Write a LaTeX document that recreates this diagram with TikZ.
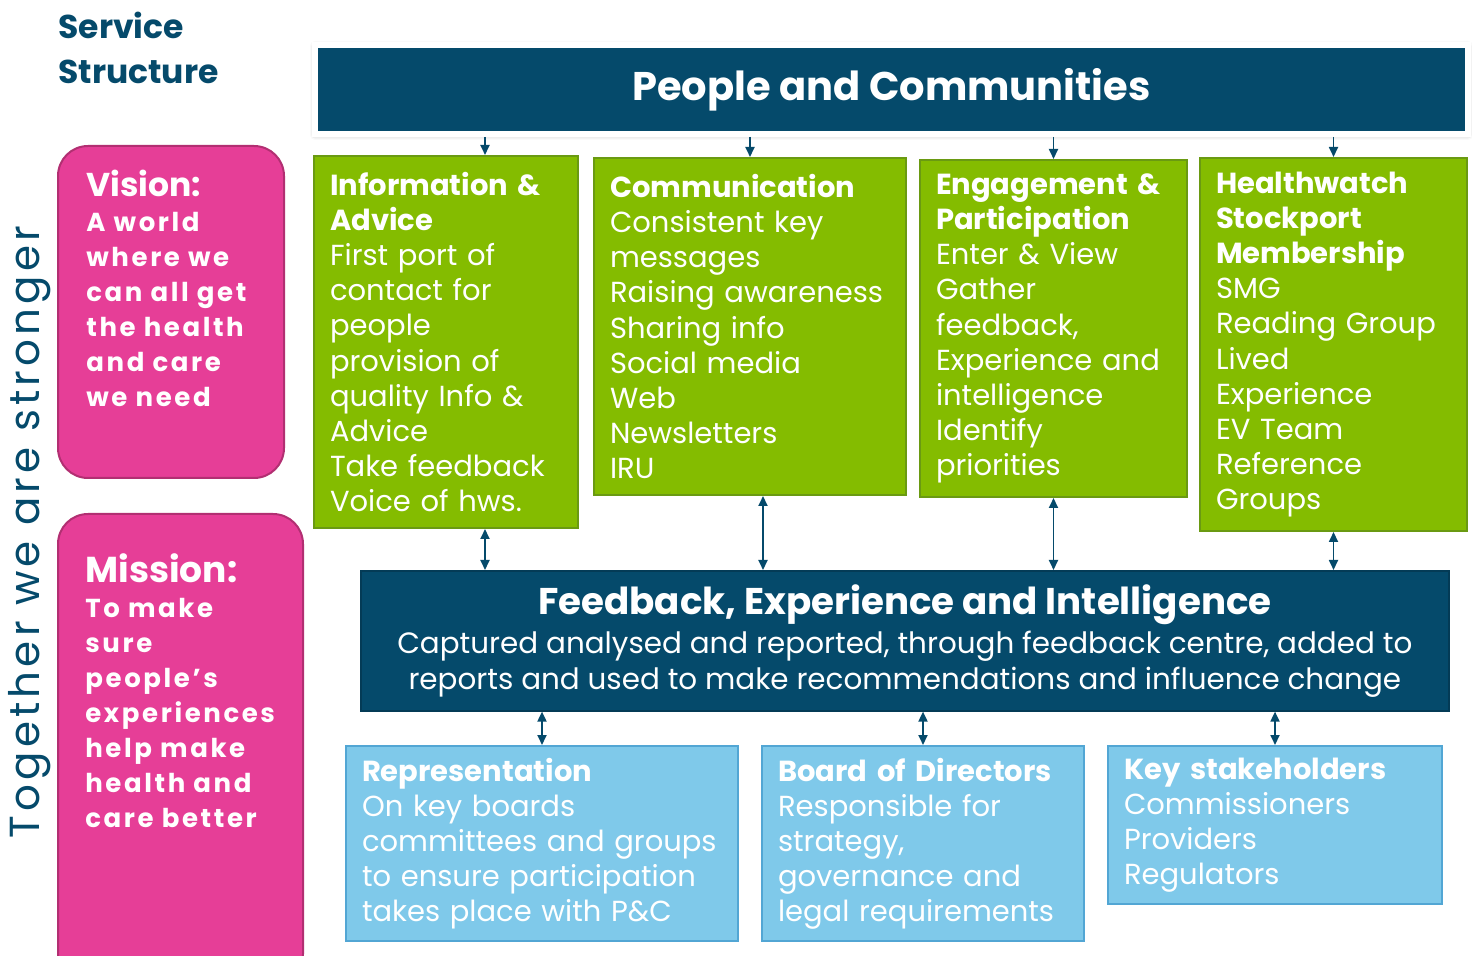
\documentclass[tikz,border=0pt]{standalone}
\usepackage{fontspec}
\setmainfont{Poppins}
\newfontfamily\widefont[LetterSpace=10]{Poppins}
\newfontfamily\sidefont[LetterSpace=10]{Poppins}
\usetikzlibrary{arrows.meta, positioning, shadows.blur}
\definecolor{hwTeal}{HTML}{054A6B}
\definecolor{hwGreen}{HTML}{84BC00}
\definecolor{hwGreenDark}{HTML}{6A9A12}
\definecolor{hwPink}{HTML}{E63E97}
\definecolor{hwPinkDark}{HTML}{B22F72}
\definecolor{hwBlue}{HTML}{7FC9EA}
\definecolor{hwBlueDark}{HTML}{52A6D4}

\begin{document}
\begin{tikzpicture}[
    x=0.5pt, y=-0.5pt,
    % Styles
    banner/.style={rectangle, fill=hwTeal, text=white, anchor=north west, inner sep=0pt, align=center},
    greenbox/.style={rectangle, draw=hwGreenDark, line width=1pt, fill=hwGreen, text=white, anchor=north west, align=left, inner xsep=8pt, inner ysep=0pt, font=\fontsize{14.5}{17.6}\selectfont},
    bluebox/.style={rectangle, draw=hwBlueDark, line width=1pt, fill=hwBlue, text=white, anchor=north west, align=left, inner xsep=8pt, inner ysep=0pt, font=\fontsize{14.5}{17.5}\selectfont},
    pinkbox/.style={rectangle, rounded corners=15pt, draw=hwPinkDark, line width=1pt, fill=hwPink, anchor=north west, inner sep=0pt},
    pinktext/.style={text=white, align=left, anchor=north west, inner sep=0pt, font=\widefont\bfseries\fontsize{13}{17.5}\selectfont},
    arrow/.style={-{Triangle[length=5pt, width=4.5pt]}, line width=0.9pt, draw=hwTeal},
    biarrow/.style={{Triangle[length=5pt, width=4.5pt]}-{Triangle[length=5pt, width=4.5pt]}, line width=0.9pt, draw=hwTeal}
]
    \useasboundingbox (0,0) rectangle (1472,956);

    % Heading and side text
    \node[anchor=north west, inner sep=0pt, align=left, text=hwTeal, font=\bfseries\fontsize{16.5}{22.5}\selectfont] (heading) at (58,12) {Service\\Structure};
    \node[rotate=90, inner sep=0pt, text=hwTeal, font=\sidefont\fontsize{21}{24}\selectfont] (together) at (30,532) {Together we are stronger};

    % Vision and mission
    \node[pinkbox, minimum width=113pt, minimum height=166pt] (visionBox) at (57,145) {};
    \node[pinktext, below right=12.5pt and 14.5pt of visionBox.north west] (visionText)
        {{\normalfont\bfseries\fontsize{16.5}{19}\selectfont Vision:}\\A world\\where we\\can all get\\the health\\and care\\we need};
    \node[pinkbox, minimum width=122.5pt, minimum height=235pt] (missionBox) at (57,513) {};
    \node[pinktext, below right=20pt and 14pt of missionBox.north west] (missionText)
        {{\normalfont\bfseries\fontsize{18}{20}\selectfont Mission:}\\To make\\sure\\people’s\\experiences\\help make\\health and\\care better};

    % Top banner
    \node[banner, minimum width=576.5pt, minimum height=44.5pt, draw=white, line width=3pt,
        blur shadow={shadow xshift=0pt, shadow yshift=-0.5pt, shadow blur radius=2.5pt, shadow opacity=35},
        font=\bfseries\fontsize{20}{24}\selectfont] (peopleBox) at (312,42) {People and Communities};

    % Service areas in a row
    \node[greenbox, minimum width=132pt, minimum height=186pt, text width=116pt] (infoBox) at (313,155)
        {\textbf{Information \&}\\\textbf{Advice}\\First port of\\contact for\\people\\provision of\\quality Info \&\\Advice\\Take feedback\\Voice of hws.};
    \node[greenbox, minimum width=156pt, minimum height=168.5pt, text width=140pt] (commBox) at (593,157)
        {\textbf{Communication}\\Consistent key\\messages\\Raising awareness\\Sharing info\\Social media\\Web\\Newsletters\\IRU};
    \node[greenbox, minimum width=133.5pt, minimum height=168.5pt, text width=117.5pt] (engageBox) at (919,159)
        {\textbf{Engagement \&}\\\textbf{Participation}\\Enter \& View\\Gather\\feedback,\\Experience and\\intelligence\\Identify\\priorities};
    \node[greenbox, minimum width=133.5pt, minimum height=186.5pt, text width=117.5pt] (memberBox) at (1199,157)
        {\textbf{Healthwatch}\\\textbf{Stockport}\\\textbf{Membership}\\SMG\\Reading Group\\Lived\\Experience\\EV Team\\Reference\\Groups};

    % Feedback centre
    \node[banner, minimum width=544pt, minimum height=70pt, draw=hwTeal!80!black, line width=0.8pt,
        font=\fontsize{14.7}{18}\selectfont] (feedbackBox) at (360,570)
        {{\bfseries\fontsize{18.6}{21}\selectfont Feedback, Experience and Intelligence}\\[1.5pt]
        Captured analysed and reported, through feedback centre, added to\\
        reports and used to make recommendations and influence change};

    % Outward links
    \node[bluebox, minimum width=196pt, minimum height=97.5pt, text width=180pt] (repBox) at (345,745)
        {\textbf{Representation}\\On key boards\\committees and groups\\to ensure participation\\takes place with P\&C};
    \node[bluebox, minimum width=161pt, minimum height=97.5pt, text width=145pt] (boardBox) at (761,745)
        {\textbf{Board of Directors}\\Responsible for\\strategy,\\governance and\\legal requirements};
    \node[bluebox, minimum width=167pt, minimum height=79pt, text width=151pt] (stakeBox) at (1107,745)
        {\textbf{Key stakeholders}\\Commissioners\\Providers\\Regulators};

    % Arrows from banner
    \draw[arrow] ([xshift=19.5pt]infoBox.north |- peopleBox.south) -- ([xshift=19.5pt]infoBox.north);
    \draw[arrow] (commBox.north |- peopleBox.south) -- (commBox.north);
    \draw[arrow] (engageBox.north |- peopleBox.south) -- (engageBox.north);
    \draw[arrow] (memberBox.north |- peopleBox.south) -- (memberBox.north);

    % Arrows to and from feedback
    \draw[biarrow] ([xshift=19.5pt]infoBox.south) -- ([xshift=19.5pt]infoBox.south |- feedbackBox.north);
    \draw[biarrow] ([xshift=6.5pt]commBox.south) -- ([xshift=6.5pt]commBox.south |- feedbackBox.north);
    \draw[biarrow] (engageBox.south) -- (engageBox.south |- feedbackBox.north);
    \draw[biarrow] (memberBox.south) -- (memberBox.south |- feedbackBox.north);
    \draw[biarrow] (feedbackBox.south -| repBox.north) -- (repBox.north);
    \draw[biarrow] (feedbackBox.south -| boardBox.north) -- (boardBox.north);
    \draw[biarrow] (feedbackBox.south -| stakeBox.north) -- (stakeBox.north);
\end{tikzpicture}
\end{document}
